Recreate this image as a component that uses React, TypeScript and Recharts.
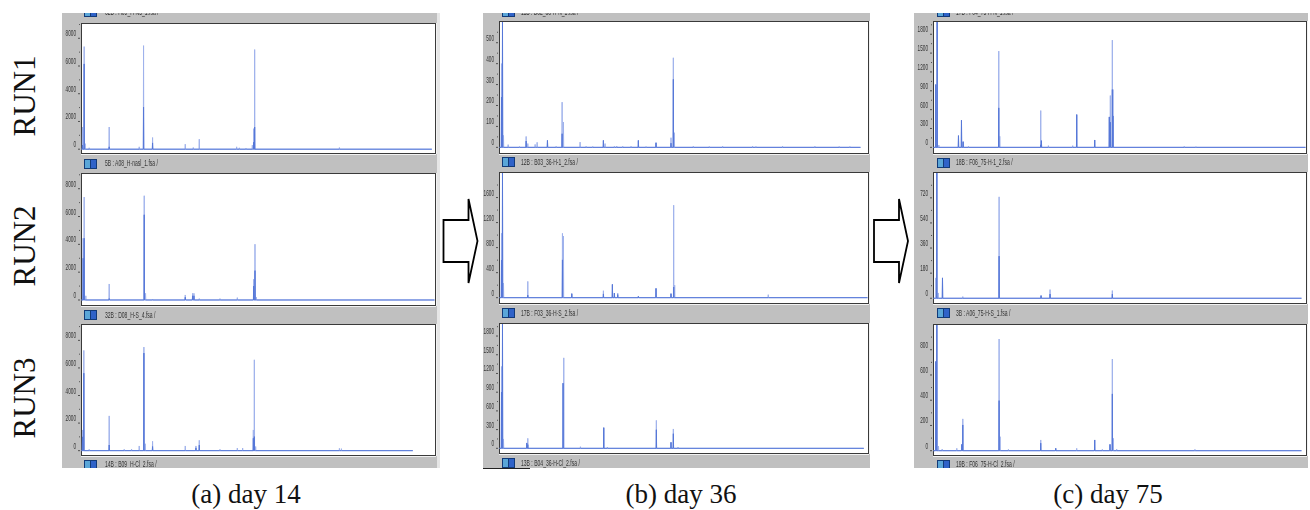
import { LineChart, Line, XAxis, YAxis } from "recharts";

// peaks: [scan, height, dark core height]
type Peak = number[];

const a1: Peak[] = [[3,1600,300],[8,7400,6150],[11,400,0],[23,100],[83,1600,170],[173,170],[186,7470,3040],[213,840,450],[311,360],[335,120],[353,720],[465,170],[473,100],[493,70],[512,290],[516,1480,500],[519,7185,1600],[773,120]];
const a2: Peak[] = [[5,4440,3000],[8,7400,4440],[13,300],[83,1150,100],[188,7495,6126],[192,480],[213,70],[311,360,200],[333,480,300],[337,480,300],[353,100],[415,100],[467,170],[516,1490,1000],[520,4010,2110],[524,200]];
const a3: Peak[] = [[3,1500,1000],[7,7270,5620],[23,100],[83,2520,410],[128,100],[150,120],[173,340],[187,7515,7080],[191,500],[213,680,300],[311,340],[343,340,200],[353,750,400],[415,100],[467,190],[483,190],[515,1500,900],[518,6590,1020],[522,300],[773,170],[779,145]];

const b1: Peak[] = [[6,400,240],[9,600,600],[12,57],[26,13],[60,4],[80,52,30],[85,18],[107,14],[113,24],[144,33,33],[170,5],[188,216,65],[192,121],[242,25],[260,5],[280,4],[312,33,33],[317,18],[345,5],[352,6],[370,5],[395,5],[417,33,33],[440,4],[470,22,22],[515,46,20],[522,428,325],[525,70],[582,5],[630,4],[670,5],[760,5],[770,4],[850,5],[947,5],[1020,4],[1052,4]];
const b2: Peak[] = [[6,1028,600],[9,1992,1992],[12,233],[85,260,40],[189,1028,604],[192,985],[217,64,64],[312,111,60],[339,212,212],[345,74,74],[355,74,50],[417,21,21],[470,148,148],[515,64,64],[523,1478,170],[526,200],[807,48]];
const b3: Peak[] = [[6,1311,900],[9,1993,1993],[12,150],[82,86,86],[85,160,60],[191,1044,1044],[193,1450,0],[243,26],[313,331,331],[324,21],[471,448,298],[515,96,96],[522,310,234],[536,21]];

const c1: Peak[] = [[7,1000,1000],[11,1995,1995],[16,37],[75,186,186],[84,431,431],[89,90,90],[105,16],[196,1532,628],[199,176],[322,585,40],[324,106,106],[345,27],[418,27],[430,521,521],[484,117,117],[528,484,484],[531,824,400],[537,1707,920],[539,920,500],[753,16],[788,11]];
const c2: Peak[] = [[7,146],[10,898,898],[14,38],[27,146,146],[88,12],[197,727,302],[323,19,19],[350,62,30],[537,55,30]];
const c3: Peak[] = [[7,707,707],[10,996,996],[15,37],[26,13],[70,19],[85,50,50],[88,252,204],[197,885,397],[200,111],[225,11],[322,85,60],[367,19,19],[430,19],[484,85,85],[507,11],[530,50,50],[537,726,450],[540,98],[550,13],[785,11]];

const ticks8000 = [0, 2000, 4000, 6000, 8000];
const ticks500 = [0, 100, 200, 300, 400, 500];
const ticks1600 = [0, 400, 800, 1200, 1600];
const ticks1800 = [0, 300, 600, 900, 1200, 1500, 1800];
const ticks720 = [0, 180, 360, 540, 720];
const ticks800 = [0, 200, 400, 600, 800];

const topNames = ["62B : H09_H-N5_1.fsa /", "11B : B02_36-H-N_1.fsa /", "17B : F04_75-H-N_1.fsa /"];
const namesA = ["5B : A08_H-nasl_1.fsa /", "32B : D08_H-S_4.fsa /", "14B : B09_H-Cl_2.fsa /"];
const namesB = ["12B : B03_36-H-1_2.fsa /", "17B : F03_36-H-S_2.fsa /", "13B : B04_36-H-Cl_2.fsa /"];
const namesC = ["18B : F06_75-H-1_2.fsa /", "3B : A06_75-H-S_1.fsa /", "19B : F06_75-H-Cl_2.fsa /"];

const captions = ["(a) day 14", "(b) day 36", "(c) day 75"];
const runs = ["RUN1", "RUN2", "RUN3"];

const columns = [
  {
    left: 62, right: 440, plotLeft: 81.5, plotRight: 434.5, iconX: 84, textX: 105, captionX: 246, top: topNames[0], scanMax: 1058,
    panels: [
      { peaks: a1, end: 1050, ticks: ticks8000, domain: [-311, 9030], y0: 23.5, y1: 153, name: namesA[0], nameY: 163 },
      { peaks: a2, end: 1058, ticks: ticks8000, domain: [-360, 9057], y0: 174, y1: 305, name: namesA[1], nameY: 314.7 },
      { peaks: a3, end: 993, ticks: ticks8000, domain: [-315, 9115], y0: 325, y1: 455, name: namesA[2], nameY: 464 },
    ],
  },
  {
    left: 483, right: 870, plotLeft: 499.5, plotRight: 867.5, iconX: 502, textX: 521, captionX: 681, top: topNames[1], scanMax: 1105,
    panels: [
      { peaks: b1, end: 1084, ticks: ticks500, domain: [-27, 599], y0: 22, y1: 153, name: namesB[0], nameY: 161.7 },
      { peaks: b2, end: 1105, ticks: ticks1600, domain: [-85, 1992], y0: 173, y1: 303, name: namesB[1], nameY: 312.7 },
      { peaks: b3, end: 1094, ticks: ticks1800, domain: [-75, 1993], y0: 324, y1: 453, name: namesB[2], nameY: 462.7 },
    ],
  },
  {
    left: 914, right: 1308, plotLeft: 933.5, plotRight: 1305.5, iconX: 936.5, textX: 956, captionX: 1108, top: topNames[2], scanMax: 1117,
    panels: [
      { peaks: c1, end: 1117, ticks: ticks1800, domain: [-90, 1995], y0: 22, y1: 153, name: namesC[0], nameY: 162 },
      { peaks: c2, end: 1105, ticks: ticks720, domain: [-34, 898], y0: 173, y1: 303, name: namesC[1], nameY: 312.7 },
      { peaks: c3, end: 1105, ticks: ticks800, domain: [-34, 996], y0: 325, y1: 455, name: namesC[2], nameY: 464 },
    ],
  },
];

const LIGHT = "#9fb2ec";
const DARK = "#5577d8";
const GRAY = "#c0c0c0";

function toRows(peaks: Peak[], end: number) {
  const rows = [{ scan: 0, top: 0, core: 0 }];
  for (const [scan, top, core = 0] of peaks) {
    rows.push({ scan: scan - 0.7, top: 0, core: 0 });
    rows.push({ scan, top, core });
    rows.push({ scan: scan + 0.7, top: 0, core: 0 });
  }
  rows.push({ scan: end, top: 0, core: 0 });
  return rows;
}

function withMinors(ticks: number[]) {
  const step = ticks[1] - ticks[0];
  return ticks.flatMap((t) => [t, t + step / 2]);
}

function makeTick(majors: number[]) {
  return function Tick({ x, y, payload }: any) {
    const major = majors.includes(payload.value);
    return (
      <g>
        <line x1={x - (major ? 3.5 : 2.5)} x2={x - 1.5} y1={y} y2={y} stroke="#333" strokeWidth={0.8} />
        {major && (
          <text
            transform={`translate(${x - 5.5},${y - 2}) scale(0.52,1)`}
            textAnchor="end"
            fontFamily="Liberation Sans"
            fontSize={9}
            fill="#333"
          >
            {payload.value}
          </text>
        )}
      </g>
    );
  };
}

function FileLabel({ iconX, textX, y, name }: { iconX: number; textX: number; y: number; name: string }) {
  return (
    <>
      <div style={{ position: "absolute", left: iconX, top: y - 4.5, width: 5, height: 8, background: "#5aa6d8", border: "1px solid #123a78" }} />
      <div style={{ position: "absolute", left: iconX + 6, top: y - 4.5, width: 5, height: 8, background: "#2f62c8", border: "1px solid #123a78" }} />
      <div
        style={{
          position: "absolute", left: textX, top: y - 6, fontFamily: "Liberation Sans", fontSize: 9, lineHeight: "12px",
          color: "#333", whiteSpace: "nowrap", transform: "scaleX(0.56)", transformOrigin: "left center",
        }}
      >
        {name}
      </div>
    </>
  );
}

function Trace({ col, p }: { col: (typeof columns)[number]; p: (typeof columns)[number]["panels"][number] }) {
  const axisWidth = col.plotLeft - col.left;
  return (
    <>
      <div
        style={{
          position: "absolute", left: col.plotLeft - 1, top: p.y0 - 1, width: col.plotRight - col.plotLeft, height: p.y1 - p.y0,
          background: "#fff", border: "1px solid #3a3a3a", boxShadow: "0 1px 0 #f2f2f2, 1px 0 0 #f2f2f2",
        }}
      />
      <div style={{ position: "absolute", left: col.left, top: p.y0 }}>
        <LineChart
          width={col.plotRight - col.left}
          height={p.y1 - p.y0}
          data={toRows(p.peaks, p.end)}
          margin={{ top: 0, right: 0, bottom: 0, left: 0 }}
        >
          <XAxis dataKey="scan" type="number" domain={[0, col.scanMax]} hide />
          <YAxis
            type="number"
            domain={p.domain}
            ticks={withMinors(p.ticks).filter((t) => t < p.domain[1])}
            width={axisWidth}
            axisLine={false}
            tickLine={false}
            tickSize={0}
            tickMargin={0}
            interval={0}
            tick={makeTick(p.ticks)}
            allowDataOverflow
          />
          <Line dataKey="top" type="linear" stroke={LIGHT} strokeWidth={1} dot={false} isAnimationActive={false} />
          <Line dataKey="core" type="linear" stroke={DARK} strokeWidth={1} dot={false} isAnimationActive={false} />
        </LineChart>
      </div>
    </>
  );
}

function Arrow({ x }: { x: number }) {
  const pts = [[x, 220], [x + 25, 220], [x + 25, 199], [x + 34, 241], [x + 25, 283], [x + 25, 262], [x, 262]];
  return <polygon points={pts.map((q) => q.join(",")).join(" ")} fill="#fff" stroke="#000" strokeWidth={1.8} />;
}

export default function App() {
  return (
    <div style={{ position: "absolute", left: 0, top: 0, width: 1310, height: 510, background: "#fff", overflow: "hidden" }}>
      {runs.map((r, i) => (
        <div
          key={r}
          style={{
            position: "absolute", left: 25, top: [96, 246, 397.5][i], fontFamily: "Liberation Serif", fontSize: 31, lineHeight: "32px",
            color: "#111", whiteSpace: "nowrap", transform: "translate(-50%,-50%) rotate(-90deg)",
          }}
        >
          {r}
        </div>
      ))}
      {columns.map((col, ci) => (
        <div key={ci}>
          <div
            style={{
              position: "absolute", left: col.left, top: 13, width: col.right - col.left, height: 455, background: GRAY,
              overflow: "hidden", filter: "blur(0.45px)",
            }}
          >
            <div style={{ position: "absolute", left: -col.left, top: -13, width: 1310, height: 510 }}>
              <FileLabel iconX={col.iconX} textX={col.textX} y={11.5} name={col.top} />
              {col.panels.map((p, pi) => (
                <div key={pi}>
                  <Trace col={col} p={p} />
                  <FileLabel iconX={col.iconX} textX={col.textX} y={p.nameY} name={p.name} />
                </div>
              ))}
            </div>
          </div>
          <div
            style={{
              position: "absolute", left: col.captionX, top: 478, fontFamily: "Liberation Serif", fontSize: 27, lineHeight: "32px",
              color: "#111", whiteSpace: "nowrap", transform: "translateX(-50%)",
            }}
          >
            {captions[ci]}
          </div>
        </div>
      ))}
      <div style={{ position: "absolute", left: 437, top: 13, width: 3, height: 455, background: "#e6e6e6" }} />
      <div style={{ position: "absolute", left: 483, top: 468, width: 47, height: 1, background: "#222" }} />
      <svg width={1310} height={510} style={{ position: "absolute", left: 0, top: 0, pointerEvents: "none" }}>
        <Arrow x={443.5} />
        <Arrow x={874} />
      </svg>
    </div>
  );
}
